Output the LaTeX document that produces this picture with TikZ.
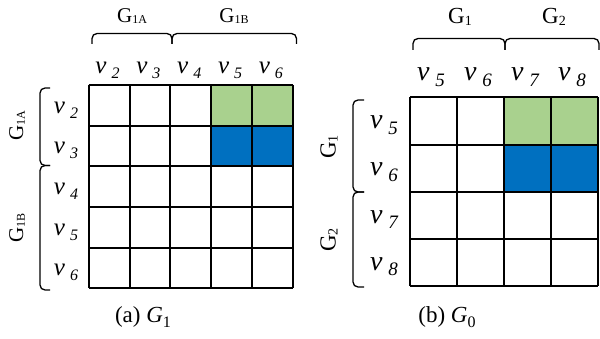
\documentclass[tikz,border=0pt]{standalone}
\usepackage{fontspec}
\setmainfont{Liberation Serif}
\definecolor{cgreen}{HTML}{A9D18E}
\definecolor{cblue}{HTML}{0070C0}
\newcommand{\vlab}[3]{{\fontsize{#1}{#1}\selectfont\itshape v\hspace{0.2em}\raisebox{-0.2em}{\fontsize{#2}{#2}\selectfont #3}}}
\newcommand{\glab}[3]{{\fontsize{#1}{#1}\selectfont G\raisebox{-0.08em}{\fontsize{#2}{#2}\selectfont #3}}}
\tikzset{
  gridline/.style={line width=2pt},
  brk/.style={line width=1.3pt, rounded corners=5pt},
  lab/.style={inner sep=0pt, anchor=center},
}
\begin{document}
\begin{tikzpicture}[x=1pt,y=-1pt]
\useasboundingbox (0,0) rectangle (600,339);
% ---------- (a) ----------
\fill[cgreen] (211.3,85) rectangle (293,125.8);
\fill[cblue] (211.3,125.8) rectangle (293,166.5);
\foreach \i in {0,...,5} {
  \draw[gridline] ({88.7+\i*40.86},85) -- ({88.7+\i*40.86},288.3);
  \draw[gridline] (88.7,{85+\i*40.66}) -- (293,{85+\i*40.66});
}
% column labels
\foreach \k [count=\i from 0] in {2,3,4,5,6}
  \node[lab] (ac\k) at ({107.5+\i*40.86},70) {\vlab{25}{16}{\k}};
\foreach \k [count=\i from 0] in {2,3,4,5,6}
  \node[lab] (ar\k) at (66,{110+\i*40.66}) {\vlab{25}{16}{\k}};
% top brackets
\draw[brk] (92,44) -- (92,33.5) -- (172,33.5) -- (172,44);
\draw[brk] (172,44) -- (172,33.5) -- (296.5,33.5) -- (296.5,44);
\node[lab] (g1a) at (132,16) {\glab{21}{12}{1A}};
\node[lab] (g1b) at (234,16) {\glab{21}{12}{1B}};
% left brackets
\draw[brk] (50,88) -- (40,88) -- (40,165.5) -- (50,165.5);
\draw[brk] (50,165.5) -- (40,165.5) -- (40,290) -- (50,290);
\node[lab, rotate=90] (l1a) at (17,126) {\glab{21}{12}{1A}};
\node[lab, rotate=90] (l1b) at (17,228) {\glab{21}{12}{1B}};
\node[lab] (capa) at (143,317) {\fontsize{23}{23}\selectfont (a) \textit{G}\raisebox{-0.22em}{\fontsize{16}{16}\selectfont 1}};
% ---------- (b) ----------
\fill[cgreen] (504,97.3) rectangle (598,145);
\fill[cblue] (504,145) rectangle (598,192);
\foreach \i in {0,...,4} {
  \draw[gridline] ({410+\i*47},97.3) -- ({410+\i*47},286.3);
  \draw[gridline] (410,{97.3+\i*47.25}) -- (598,{97.3+\i*47.25});
}
\foreach \k [count=\i from 0] in {5,6,7,8}
  \node[lab] (bc\k) at ({431+\i*47},77) {\vlab{28}{19}{\k}};
\foreach \k [count=\i from 0] in {5,6,7,8}
  \node[lab] (br\k) at (384,{125+\i*47.25}) {\vlab{28}{19}{\k}};
\draw[brk] (413,50) -- (413,38.5) -- (505,38.5) -- (505,50);
\draw[brk] (505,50) -- (505,38.5) -- (599,38.5) -- (599,50);
\node[lab] (g1) at (460,17) {\glab{23}{14}{1}};
\node[lab] (g2) at (554,17) {\glab{23}{14}{2}};
\draw[brk] (364,100) -- (353,100) -- (353,192) -- (364,192);
\draw[brk] (364,192) -- (353,192) -- (353,287) -- (364,287);
\node[lab, rotate=90] (l1) at (329,147) {\glab{23}{14}{1}};
\node[lab, rotate=90] (l2) at (329,240) {\glab{23}{14}{2}};
\node[lab] (capb) at (447,317) {\fontsize{23}{23}\selectfont (b) \textit{G}\raisebox{-0.22em}{\fontsize{16}{16}\selectfont 0}};
\end{tikzpicture}
\end{document}
